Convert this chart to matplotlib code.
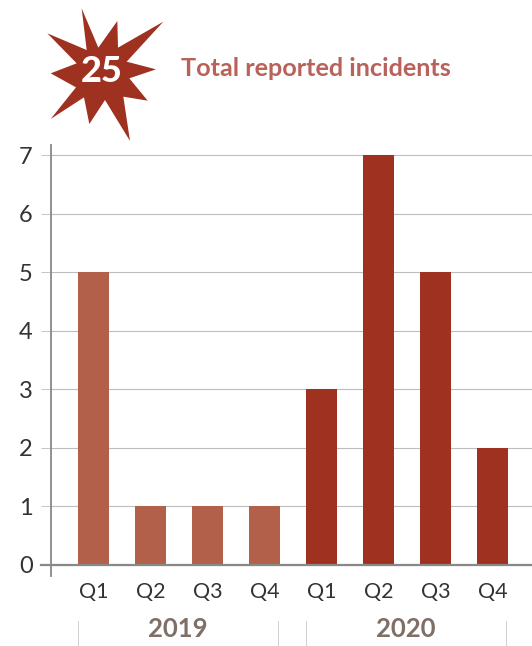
import matplotlib
matplotlib.use("Agg")
import matplotlib.pyplot as plt
from matplotlib.patches import Polygon
from matplotlib.transforms import Affine2D

plt.rcParams['font.family'] = ['Lato', 'DejaVu Sans']

quarters = ["Q1", "Q2", "Q3", "Q4", "Q1", "Q2", "Q3", "Q4"]
incidents = [5, 1, 1, 1, 3, 7, 5, 2]
years = ["2019", "2020"]
total = 25
title = "Total reported incidents"

RED_LIGHT = "#B2604A"
RED_DARK = "#9F3121"
GREY = "#888888"
bar_colors = [RED_LIGHT] * 4 + [RED_DARK] * 4

W, H = 532, 646
fig = plt.figure(figsize=(W / 100, H / 100), dpi=100)
# axes box in pixels: x 51-532, y 145-576
ax = fig.add_axes([51 / W, 1 - 576 / H, 481 / W, 431 / H])
ax.bar(range(8), incidents, width=31 / 57, color=bar_colors, zorder=3)
ax.set_xlim(-0.746, 7.693)
ax.set_ylim(-0.188, 7.171)

ax.set_yticks(range(8))
ax.set_xticks(range(8))
ax.set_xticklabels(quarters)
ax.grid(axis="y", color="#BDBDBD", linewidth=0.8, zorder=0)
ax.tick_params(axis="y", length=7.2, width=0.6, color="#BDBDBD", pad=6, labelsize=17, labelcolor="#333333")
ax.tick_params(axis="x", length=0, pad=4, labelsize=15.5, labelcolor="#333333")
for s in ["top", "right", "bottom"]:
    ax.spines[s].set_visible(False)
ax.spines["left"].set_color(GREY)
ax.spines["left"].set_linewidth(1.3)
ax.axhline(0, color=GREY, linewidth=1.6, zorder=4)
ax.plot([-0.746 - 10 / 57, -0.746], [0, 0], color=GREY, linewidth=1.6, clip_on=False, zorder=4)

# figure overlay in pixel coords, y pointing down
px = Affine2D().scale(1, -1).translate(0, H) + Affine2D().scale(fig.dpi / 100)

# year brackets under the quarter labels
for i, year in enumerate(years):
    left = i * 4
    x0 = ax.transData.transform((left - 0.27, 0))[0]
    x1 = ax.transData.transform((left + 3.24, 0))[0]
    for x in (x0, x1):
        fig.add_artist(plt.Line2D([x, x], [621, 646], color="#D0D0D0", linewidth=0.7, transform=px))
    fig.text((x0 + x1) / 2, 629, year, transform=px, ha="center", va="center",
             fontsize=18.5, fontweight="bold", color="#7F6F66")

# the star badge
star = [(155, 25), (205, 143), (262, 63), (264, 143), (400, 65), (290, 185), (378, 208),
        (298, 235), (353, 302), (280, 290), (300, 423), (225, 300), (178, 372), (162, 292),
        (62, 357), (138, 262), (62, 220), (140, 190), (52, 100), (170, 150)]
star = [(30 + x / 3, y / 3) for x, y in star]
fig.add_artist(Polygon(star, closed=True, facecolor=RED_DARK, edgecolor="none", transform=px))
fig.text(101.5, 71, str(total), transform=px, ha="center", va="center",
         fontsize=26, fontweight="black", color="white")
fig.text(181, 68.5, title, transform=px, ha="left", va="center",
         fontsize=18.2, fontweight="bold", color="#B8625A")

fig.savefig("out.png", dpi=100)
